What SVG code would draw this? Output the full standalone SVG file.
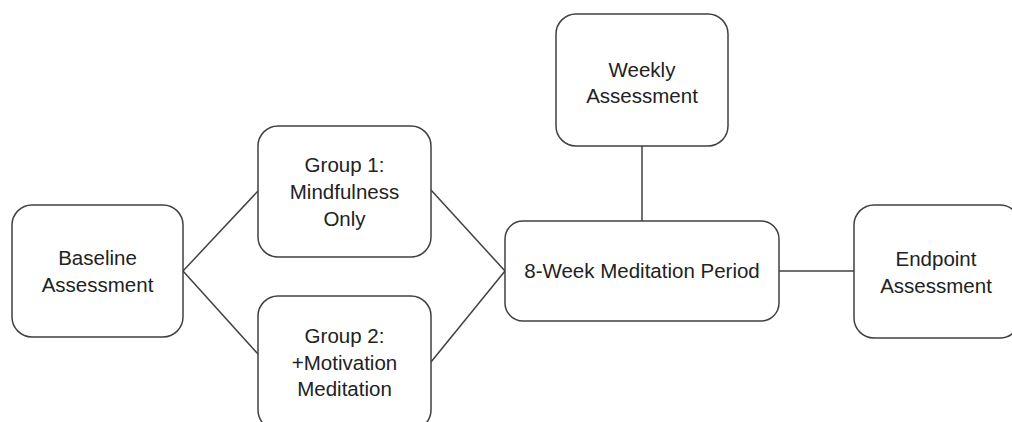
<svg xmlns="http://www.w3.org/2000/svg" width="1012" height="422" viewBox="0 0 1012 422">
<style>
.box{fill:#fff;stroke:#404040;stroke-width:1.5}
.ln{stroke:#404040;stroke-width:1.5;fill:none}
text{font-family:"Liberation Sans",Arial,sans-serif;font-size:20.5px;fill:#222;text-anchor:middle}
</style>
<rect width="1012" height="422" fill="#fff"/>
<g id="connectors">
<line class="ln" x1="183" y1="271" x2="258" y2="191"/>
<line class="ln" x1="183" y1="271" x2="258" y2="354"/>
<line class="ln" x1="431" y1="190" x2="505" y2="271"/>
<line class="ln" x1="431" y1="362" x2="505" y2="271"/>
<line class="ln" x1="642" y1="146" x2="642" y2="221"/>
<line class="ln" x1="779" y1="271" x2="854" y2="271"/>
</g>
<g id="baseline">
<rect class="box" x="12" y="205" width="171" height="132" rx="20"/>
<text x="97.5" y="265">Baseline</text>
<text x="97.5" y="292">Assessment</text>
</g>
<g id="group1">
<rect class="box" x="258" y="126" width="173" height="131" rx="20"/>
<text x="344.5" y="172">Group 1:</text>
<text x="344.5" y="199">Mindfulness</text>
<text x="344.5" y="226">Only</text>
</g>
<g id="group2">
<rect class="box" x="258" y="296" width="173" height="134" rx="20"/>
<text x="344.5" y="343">Group 2:</text>
<text x="344.5" y="370">+Motivation</text>
<text x="344.5" y="396">Meditation</text>
</g>
<g id="period">
<rect class="box" x="505" y="221" width="274" height="100" rx="18"/>
<text x="642" y="278">8-Week Meditation Period</text>
</g>
<g id="weekly">
<rect class="box" x="556" y="14" width="172" height="132" rx="20"/>
<text x="642" y="77">Weekly</text>
<text x="642" y="103">Assessment</text>
</g>
<g id="endpoint">
<rect class="box" x="854" y="205" width="166" height="133" rx="20"/>
<text x="936" y="266">Endpoint</text>
<text x="936" y="293">Assessment</text>
</g>
</svg>
